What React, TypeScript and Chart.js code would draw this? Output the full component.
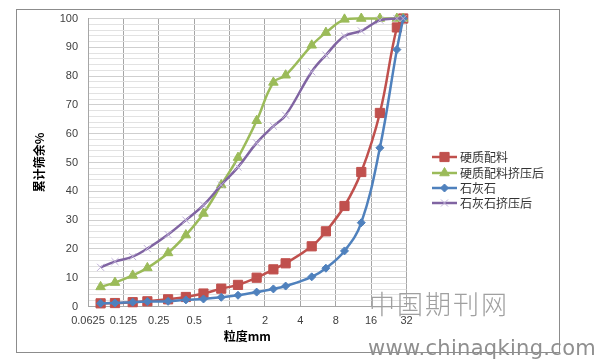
import React, { useEffect, useRef } from "react";
import { Chart, registerables } from "chart.js";
import { drawPoint } from "chart.js/helpers";

Chart.register(...registerables);

const sizes = [0.08, 0.106, 0.15, 0.2, 0.3, 0.425, 0.6, 0.85, 1.18, 1.7, 2.36, 3, 5, 6.6, 9.5, 13.2, 19, 26.5, 30];
const hardMix = [1.1, 1.2, 1.5, 1.8, 2.5, 3.3, 4.5, 6.2, 7.5, 10.0, 12.9, 15.0, 20.9, 26.1, 34.9, 46.7, 67.2, 96.9, 100];
const hardMixPressed = [6.8, 8.3, 10.8, 13.4, 18.6, 24.8, 32.3, 42.2, 51.7, 64.5, 77.8, 80.3, 90.7, 95.1, 99.7, 100, 100, 100, 100];
const limestone = [1.1, 1.2, 1.5, 1.7, 1.8, 2.3, 2.6, 3.2, 3.9, 5.0, 6.1, 7.1, 10.3, 13.3, 19.3, 29.1, 55.1, 89.2, 100];
const limestonePressed = [13.6, 15.6, 17.3, 20.1, 25.0, 30.0, 35.2, 42.2, 48.4, 56.8, 62.6, 66.4, 81.5, 87.3, 93.9, 95.7, 99.4, 100, 100];
const seriesNames = ["硬质配料", "硬质配料挤压后", "石灰石", "石灰石挤压后"];
const xTicks = [0.0625, 0.125, 0.25, 0.5, 1, 2, 4, 8, 16, 32];
const yTitle = "累计筛余%";
const xTitle = "粒度mm";

const pts = (vals: number[]) => sizes.map((s, i) => ({ x: s, y: vals[i] }));

const cjk = "'Noto Sans CJK SC', 'Liberation Sans', sans-serif";

const frame = {
  id: "frame",
  beforeDraw(chart: any) {
    const ctx = chart.ctx;
    ctx.save();
    ctx.fillStyle = "#fff";
    ctx.fillRect(0, 0, chart.width, chart.height);
    ctx.strokeStyle = "#8c8c8c";
    ctx.lineWidth = 1;
    ctx.strokeRect(16.5, 9.5, 543, 343);
    ctx.restore();
  },
};

const legend = {
  id: "excelLegend",
  afterDraw(chart: any) {
    const ctx = chart.ctx;
    const ys = [157, 173, 188, 203];
    chart.data.datasets.forEach((ds: any, i: number) => {
      const y = ys[i];
      ctx.save();
      ctx.strokeStyle = ds.borderColor;
      ctx.lineWidth = ds.borderWidth;
      ctx.beginPath();
      ctx.moveTo(432, y);
      ctx.lineTo(457, y);
      ctx.stroke();
      ctx.fillStyle = ds.pointBackgroundColor;
      ctx.strokeStyle = ds.pointBorderColor;
      ctx.lineWidth = ds.pointBorderWidth;
      drawPoint(ctx, { pointStyle: ds.pointStyle, radius: ds.pointRadius, rotation: 0, borderWidth: ds.pointBorderWidth }, 444.5, y);
      ctx.fillStyle = "#333";
      ctx.font = "12px " + cjk;
      ctx.textBaseline = "middle";
      ctx.textAlign = "left";
      ctx.fillText(ds.label, 460, y);
      ctx.restore();
    });
  },
};

export default function App() {
  const ref = useRef<HTMLCanvasElement>(null);
  useEffect(() => {
    const mk = (label: string, vals: number[], color: string, style: string, r: number, ptColor: string, ptBw: number, order: number) => ({
      label,
      data: pts(vals),
      borderColor: color,
      backgroundColor: color,
      borderWidth: 2.5,
      pointStyle: style,
      pointRadius: r,
      pointBackgroundColor: ptColor,
      pointBorderColor: ptColor,
      pointBorderWidth: ptBw,
      tension: 0.4,
      clip: false,
      order,
    });
    const chart = new Chart(ref.current!, {
      type: "line",
      data: {
        datasets: [
          mk(seriesNames[0], hardMix, "#C0504D", "rect", 6.5, "#C0504D", 1, 4),
          mk(seriesNames[1], hardMixPressed, "#9BBB59", "triangle", 5.5, "#9BBB59", 1, 3),
          mk(seriesNames[2], limestone, "#4F81BD", "rectRot", 4, "#4F81BD", 1, 2),
          mk(seriesNames[3], limestonePressed, "#8064A2", "crossRot", 5, "#bfb0d8", 1, 1),
        ] as any,
      },
      options: {
        responsive: false,
        animation: false,
        layout: { padding: { left: 0, top: 18.5, right: 191.5, bottom: 0 } },
        plugins: { legend: { display: false }, tooltip: { enabled: false } },
        scales: {
          x: {
            type: "logarithmic",
            min: 0.0625,
            max: 32,
            bounds: "data",
            afterBuildTicks: (s: any) => {
              s.ticks = xTicks.map((v) => ({ value: v }));
            },
            afterFit: (s: any) => {
              s.height = 52.5;
            },
            ticks: {
              autoSkip: false,
              maxRotation: 0,
              padding: 8,
              color: "#404040",
              font: { family: "'Liberation Sans', Arial, sans-serif", size: 11 },
              callback: (v: any) => String(v),
            },
            grid: { color: "#a6a6a6", drawTicks: false },
            border: { color: "#a6a6a6" },
            title: {
              display: true,
              text: xTitle,
              color: "#000",
              font: { family: cjk, size: 12, weight: "bold" },
              padding: { top: 0, bottom: 15 },
            },
          },
          y: {
            type: "linear",
            min: 0,
            max: 100,
            afterFit: (s: any) => {
              s.width = 88;
            },
            ticks: {
              stepSize: 2,
              autoSkip: false,
              padding: 10,
              color: "#404040",
              font: { family: "'Liberation Sans', Arial, sans-serif", size: 11 },
              callback: (v: any) => (Number(v) % 10 === 0 ? String(v) : ""),
            },
            grid: {
              drawTicks: false,
              color: (c: any) => (c.tick && c.tick.value % 10 === 0 ? "#cfcfcf" : "#e2e2e2"),
            },
            border: { color: "#a6a6a6" },
            title: {
              display: true,
              text: yTitle,
              color: "#000",
              font: { family: cjk, size: 12, weight: "bold" },
              padding: { top: 32, bottom: 0 },
            },
          },
        },
      } as any,
      plugins: [frame, legend],
    });
    return () => chart.destroy();
  }, []);
  return (
    <div style={{ position: "absolute", left: 0, top: 0, width: 598, height: 359, background: "#fff", overflow: "hidden" }}>
      <canvas ref={ref} width={598} height={359} style={{ display: "block", width: 598, height: 359 }} />
      <div
        style={{
          position: "absolute",
          left: 369,
          top: 290,
          fontFamily: cjk,
          fontSize: 26,
          lineHeight: "26px",
          fontWeight: 300,
          letterSpacing: 2,
          color: "#a0a0a0",
          whiteSpace: "nowrap",
          pointerEvents: "none",
        }}
      >
        中国期刊网
      </div>
      <div
        style={{
          position: "absolute",
          left: 368,
          top: 338,
          fontFamily: "'DejaVu Sans', sans-serif",
          fontSize: 21,
          lineHeight: "21px",
          letterSpacing: 0.3,
          color: "#8f8f8f",
          whiteSpace: "nowrap",
          pointerEvents: "none",
        }}
      >
        www.chinaqking.com
      </div>
    </div>
  );
}
